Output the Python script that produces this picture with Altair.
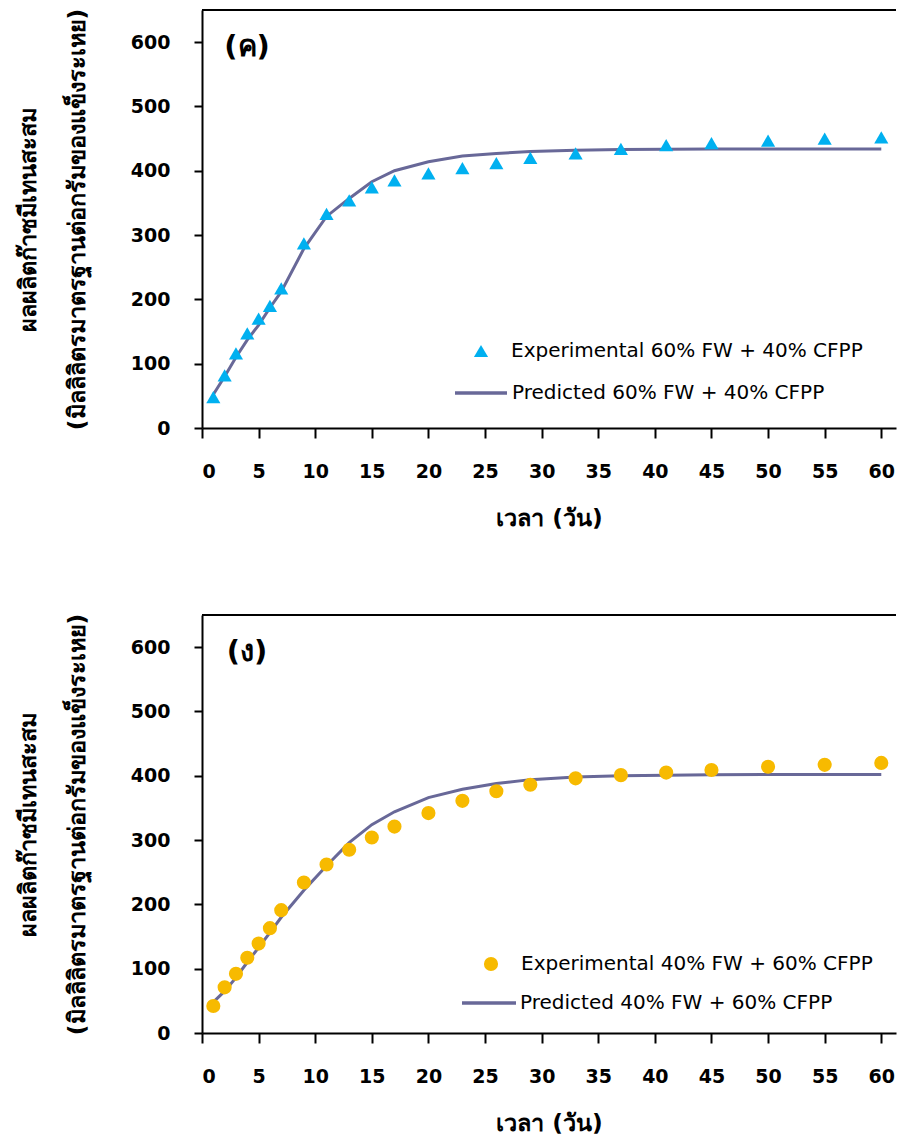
import altair as alt
import pandas as pd

days = [1, 2, 3, 4, 5, 6, 7, 9, 11, 13, 15, 17, 20, 23, 26, 29, 33, 37, 41, 45, 50, 55, 60]

# panel (ค): 60% FW + 40% CFPP
exp_c = [48, 82, 116, 147, 170, 190, 217, 287, 333, 354, 374, 385, 396, 404, 412, 420, 427, 434, 440, 443, 447, 450, 452]
pred_c = [52, 80, 110, 137, 160, 187, 212, 279, 329, 357, 383, 400, 414, 423, 427, 430, 432, 433, 433.5, 434, 434, 434, 434]

# panel (ง): 40% FW + 60% CFPP
exp_d = [42, 71, 92, 117, 139, 163, 191, 234, 262, 285, 304, 321, 342, 361, 376, 386, 396, 401, 405, 409, 414, 417, 420]
pred_d = [48, 65, 86, 110, 133, 156, 180, 222, 260, 296, 324, 344, 366, 379, 388, 394, 398, 400, 401, 401.4, 402, 402, 402]

x_ticks = list(range(0, 61, 5))
y_ticks = list(range(0, 601, 100))
y_title = ["ผลผลิตก๊าซมีเทนสะสม", "(มิลลิลิตรมาตรฐานต่อกรัมของแข็งระเหย)"]
x_title = "เวลา (วัน)"

LINE_COLOR = "#686898"
W, H = 694, 418


def panel(exp, pred, tag, exp_name, pred_name, shape, color, leg1, leg2):
    df_e = pd.DataFrame({"day": days, "v": exp, "s": exp_name})
    df_p = pd.DataFrame({"day": days, "v": pred, "s2": pred_name})
    x = alt.X("day:Q", scale=alt.Scale(domain=[0, 61.3], nice=False, zero=False),
              axis=alt.Axis(values=x_ticks, title=x_title, tickSize=10,
                            labelPadding=24, titlePadding=25))
    y = alt.Y("v:Q", scale=alt.Scale(domain=[0, 650], nice=False),
              axis=alt.Axis(values=y_ticks, title=y_title, tickSize=8,
                            labelPadding=24, titlePadding=41, titleLineHeight=49))
    line = alt.Chart(df_p).mark_line(strokeWidth=3).encode(
        x=x, y=y,
        stroke=alt.Stroke("s2:N", scale=alt.Scale(range=[LINE_COLOR]),
                          legend=alt.Legend(orient="none", legendX=leg2[0], legendY=leg2[1],
                                            title=None, symbolType="stroke",
                                            symbolSize=leg2[2] ** 2, symbolStrokeWidth=3.5,
                                            labelOffset=leg2[3], padding=0)))
    pts = alt.Chart(df_e).mark_point(filled=True, shape=shape, size=200, opacity=1).encode(
        x=x, y=y,
        fill=alt.Fill("s:N", scale=alt.Scale(range=[color]),
                      legend=alt.Legend(orient="none", legendX=leg1[0], legendY=leg1[1],
                                        title=None, symbolType=shape, symbolSize=200,
                                        symbolStrokeWidth=0, symbolOpacity=1,
                                        labelOffset=leg1[2], padding=0)))
    top = alt.Chart(pd.DataFrame({"v": [650]})).mark_rule(color="black", strokeWidth=2).encode(y=y)
    lab = alt.Chart(pd.DataFrame({"t": [tag]})).mark_text(
        fontSize=29, fontWeight="bold", font="DejaVu Sans", align="center", baseline="middle"
    ).encode(x=alt.value(45), y=alt.value(37), text="t:N")
    return alt.layer(line, pts, top, lab).properties(width=W, height=H)


c = panel(exp_c, pred_c, "(ค)", "Experimental 60% FW + 40% CFPP", "Predicted 60% FW + 40% CFPP",
          "triangle-up", "#00B0F0", (269, 331, 20), (251, 355, 52, 3))
d = panel(exp_d, pred_d, "(ง)", "Experimental 40% FW + 60% CFPP", "Predicted 40% FW + 60% CFPP",
          "circle", "#F7BA00", (279, 339, 20), (258, 359, 54, 2))

chart = alt.vconcat(c, d, spacing=83).resolve_scale(fill="independent", stroke="independent") \
    .properties(padding={"left": 8, "top": 0, "right": 0, "bottom": 0}) \
    .configure_view(stroke=None) \
    .configure_axis(domainColor="black", domainWidth=2, tickColor="black", tickWidth=2,
                    grid=False, labelFont="DejaVu Sans", labelFontSize=19, labelFontWeight="bold",
                    labelColor="black", titleFont="DejaVu Sans", titleFontSize=23.5,
                    titleFontWeight="bold", titleColor="black") \
    .configure_legend(labelFont="DejaVu Sans", labelFontSize=20, labelColor="black",
                      labelLimit=600)

chart.save("out.html", embed_options={"renderer": "svg", "actions": False})
